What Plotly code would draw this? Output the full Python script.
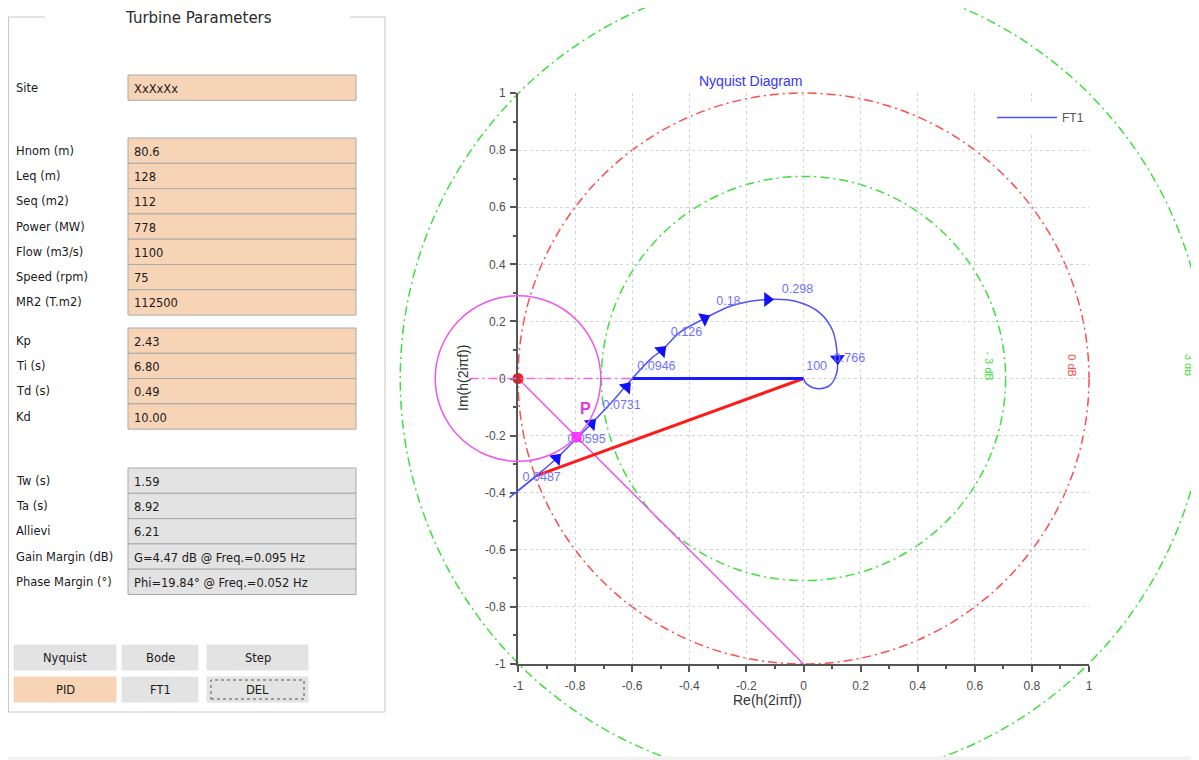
import plotly.graph_objects as go

# ---------------- data ----------------
# Nyquist curve FT1 (low frequency -> high frequency)
curve_re = [-1.03, -0.935, -0.865, -0.795, -0.743, -0.66, -0.6, -0.529, -0.497, -0.434, -0.347,
            -0.249, -0.126, -0.025, 0.056, 0.102, 0.119, 0.116, 0.091, 0.046, 0.01, 0.0]
curve_im = [-0.417, -0.34, -0.28, -0.21, -0.158, -0.07, 0.0, 0.074, 0.098, 0.161, 0.21,
            0.256, 0.277, 0.27, 0.231, 0.168, 0.07, 0.018, -0.025, -0.035, -0.018, 0.0]

# direction arrows along the curve
arrow_re = [-1.03, -0.865, -0.743, -0.62, -0.497, -0.347, -0.126, 0.119]
arrow_im = [-0.417, -0.28, -0.158, -0.03, 0.098, 0.21, 0.277, 0.07]
arrow_dir = [230, 45, 45, 42, 46, 63, 90, 177]

# frequency labels (Hz)
freq_text = ["0.0487", "0.0595", "0.0731", "0.0946", "0.126", "0.18", "0.298", "0.766", "100"]
freq_re = [-0.917, -0.76, -0.637, -0.515, -0.41, -0.263, -0.021, 0.161, 0.046]
freq_im = [-0.347, -0.214, -0.095, 0.039, 0.161, 0.27, 0.312, 0.07, 0.039]

# margins
gain_re = [-0.6, 0.0]
gain_im = [0.0, 0.0]
phase_re = [-0.935, 0.0]
phase_im = [-0.34, 0.0]
critical_re = [-1.0]
critical_im = [0.0]
p_re = [-0.795]
p_im = [-0.205]
pline_re = [-1.0, 0.0]
pline_im = [0.0, -1.0]
p_circle_radius = 0.29
p_axis_re = [-1.17, -0.6]

# constant-gain circles (dB)
db_levels = [-3, 0, 3]
db_colors = ["#3ee03e", "#ff4d4d", "#3ee03e"]
db_label_re = [0.651, 0.942, 1.35]
db_label_im = [0.045, 0.045, 0.045]

# axis ticks
tick_vals = [-1, -0.8, -0.6, -0.4, -0.2, 0, 0.2, 0.4, 0.6, 0.8, 1]
tick_text = ["-1", "-0.8", "-0.6", "-0.4", "-0.2", "0", "0.2", "0.4", "0.6", "0.8", "1"]

# left panel
site_label = "Site"
site_value = "XxXxXx"
turb_labels = ["Hnom (m)", "Leq (m)", "Seq (m2)", "Power (MW)", "Flow (m3/s)", "Speed (rpm)", "MR2 (T.m2)"]
turb_values = ["80.6", "128", "112", "778", "1100", "75", "112500"]
pid_labels = ["Kp", "Ti (s)", "Td (s)", "Kd"]
pid_values = ["2.43", "6.80", "0.49", "10.00"]
res_labels = ["Tw (s)", "Ta (s)", "Allievi", "Gain Margin (dB)", "Phase Margin (°)"]
res_values = ["1.59", "8.92", "6.21", "G=4.47 dB @ Freq.=0.095 Hz", "Phi=19.84° @ Freq.=0.052 Hz"]
buttons_row1 = ["Nyquist", "Bode", "Step"]
buttons_row2 = ["PID", "FT1", "DEL"]

# ---------------- geometry helpers ----------------
# the page body has an 8px margin; positions below are in window pixels
OFF = 8
W, H = 1199 - OFF, 760 - OFF
PX0, PX1, PY0, PY1 = 518, 1089, 93, 664
XR = [-1, 1]
YR = [-1, 1]


def px(x):
    return (x - OFF) / W


def py(y):
    return 1 - (y - OFF) / H


def dx(v):
    return px(PX0 + (v - XR[0]) / (XR[1] - XR[0]) * (PX1 - PX0))


def dy(v):
    return py(PY1 - (v - YR[0]) / (YR[1] - YR[0]) * (PY1 - PY0))


PEACH = "#f8d4b6"
GRAYBOX = "#e3e3e3"
BORDER = "#a9a9a9"
CHART_FONT = "Liberation Sans"
UI_FONT = "DejaVu Sans"
CURVE_COLOR = "#5050ff"

fig = go.Figure()

# ---------------- traces ----------------
fig.add_trace(go.Scatter(x=pline_re, y=pline_im, mode="lines",
                         line=dict(color="#ee55ee", width=1.5), showlegend=False, hoverinfo="skip"))
fig.add_trace(go.Scatter(x=phase_re, y=phase_im, mode="lines",
                         line=dict(color="#ff1a1a", width=3), showlegend=False, hoverinfo="skip"))
fig.add_trace(go.Scatter(x=gain_re, y=gain_im, mode="lines",
                         line=dict(color="#1a1aff", width=3), showlegend=False, hoverinfo="skip"))
fig.add_trace(go.Scatter(x=curve_re, y=curve_im, mode="lines", name="FT1",
                         line=dict(color=CURVE_COLOR, width=1.5, shape="spline", smoothing=1.0),
                         showlegend=True))
fig.add_trace(go.Scatter(x=arrow_re, y=arrow_im, mode="markers", cliponaxis=False,
                         marker=dict(symbol="triangle-up", size=13, angle=arrow_dir, color="#1010ff",
                                     line=dict(width=0)),
                         showlegend=False, hoverinfo="skip"))
fig.add_trace(go.Scatter(x=freq_re, y=freq_im, mode="text", text=freq_text, cliponaxis=False,
                         textfont=dict(family=CHART_FONT, size=12.5, color="#7272ff"),
                         showlegend=False, hoverinfo="skip"))
fig.add_trace(go.Scatter(x=p_re, y=p_im, mode="markers", cliponaxis=False,
                         marker=dict(symbol="square", size=10, color="#ff33ff", line=dict(width=0)),
                         showlegend=False, hoverinfo="skip"))
fig.add_trace(go.Scatter(x=critical_re, y=critical_im, mode="markers", cliponaxis=False,
                         marker=dict(symbol="circle", size=11, color="#ff1a1a", line=dict(width=0)),
                         showlegend=False, hoverinfo="skip"))

shapes = []
annotations = []

# first curve segment lies left of the y axis: draw it unclipped
shapes.append(dict(type="line", xref="paper", yref="paper",
                   x0=dx(curve_re[0]), y0=dy(curve_im[0]), x1=dx(curve_re[1]), y1=dy(curve_im[1]),
                   line=dict(color=CURVE_COLOR, width=1.5)))

# constant-gain circles (paper-referenced so they are not clipped)
for lvl, col, lx, ly in zip(db_levels, db_colors, db_label_re, db_label_im):
    r = 10 ** (lvl / 20)
    shapes.append(dict(type="circle", xref="paper", yref="paper",
                       x0=dx(-r), x1=dx(r), y0=dy(-r), y1=dy(r),
                       line=dict(color=col, width=1.5, dash="9px,4px,2px,4px"), layer="below"))
    annotations.append(dict(xref="paper", yref="paper", x=dx(lx), y=dy(ly),
                            text=f"{lvl} dB" if lvl != -3 else "- 3 dB",
                            showarrow=False, textangle=90, xanchor="center", yanchor="middle",
                            font=dict(family=CHART_FONT, size=11, color=col)))

# magenta circle around the critical point and dash-dot axis line
cx, cy = critical_re[0], critical_im[0]
shapes.append(dict(type="circle", xref="paper", yref="paper",
                   x0=dx(cx - p_circle_radius), x1=dx(cx + p_circle_radius),
                   y0=dy(cy - p_circle_radius), y1=dy(cy + p_circle_radius),
                   line=dict(color="#ee55ee", width=1.5)))
shapes.append(dict(type="line", xref="paper", yref="paper",
                   x0=dx(p_axis_re[0]), x1=dx(p_axis_re[1]), y0=dy(cy), y1=dy(cy),
                   line=dict(color="#ee66ee", width=1.5, dash="9px,4px,2px,4px")))

annotations.append(dict(xref="x", yref="y", x=-0.763, y=-0.105, text="<b>P</b>", showarrow=False,
                        font=dict(family=CHART_FONT, size=16, color="#e633e6")))

# axis titles & chart title
annotations.append(dict(xref="paper", yref="paper", x=px(804), y=py(710), text="Re(h(2iπf))",
                        showarrow=False, font=dict(family=CHART_FONT, size=14, color="#333333")))
annotations.append(dict(xref="paper", yref="paper", x=px(463), y=py(378), text="Im(h(2iπf))",
                        showarrow=False, textangle=-90, font=dict(family=CHART_FONT, size=14, color="#333333")))
annotations.append(dict(xref="paper", yref="paper", x=px(804), y=py(71), text="Nyquist Diagram",
                        showarrow=False, font=dict(family=CHART_FONT, size=14, color="#3535ff")))


# ---------------- left panel ----------------
def rect(x0, y0, x1, y1, fill, line_color=BORDER, width=1, dash=None):
    ln = dict(color=line_color, width=width)
    if dash:
        ln["dash"] = dash
    shapes.append(dict(type="rect", xref="paper", yref="paper",
                       x0=px(x0), x1=px(x1), y0=py(y1), y1=py(y0),
                       fillcolor=fill, line=ln))


def hline(x0, x1, y, color="#c8c8c8"):
    shapes.append(dict(type="line", xref="paper", yref="paper", x0=px(x0), x1=px(x1),
                       y0=py(y), y1=py(y), line=dict(color=color, width=1)))


def vline(x, y0, y1, color="#c8c8c8"):
    shapes.append(dict(type="line", xref="paper", yref="paper", x0=px(x), x1=px(x),
                       y0=py(y0), y1=py(y1), line=dict(color=color, width=1)))


def text(x, y, s, size=11.5, anchor="left", color="#1a1a1a"):
    annotations.append(dict(xref="paper", yref="paper", x=px(x), y=py(y), text=s, showarrow=False,
                            xanchor=anchor, yanchor="middle",
                            font=dict(family=UI_FONT, size=size, color=color)))


# group box
vline(8.5, 17, 712)
vline(385, 17, 712)
hline(8, 385, 712)
hline(8, 45, 17)
hline(350, 385, 17)
text(198, 18, "Turbine Parameters", size=15, anchor="center", color="#2a2a2a")

BX0, BX1 = 128, 356
ROW = 25.3


def field_group(labels, values, top, fill):
    for i, (lab, val) in enumerate(zip(labels, values)):
        y0 = top + i * ROW
        y1 = y0 + ROW
        rect(BX0, y0, BX1, y1, fill)
        text(14, (y0 + y1) / 2, lab)
        text(132, (y0 + y1) / 2 + 1, val, size=11.5)


field_group([site_label], [site_value], 75, PEACH)
field_group(turb_labels, turb_values, 138, PEACH)
field_group(pid_labels, pid_values, 328, PEACH)
field_group(res_labels, res_values, 468, GRAYBOX)

btn_x = [(14, 116), (122, 198), (207, 308)]
for (x0, x1), lab in zip(btn_x, buttons_row1):
    rect(x0, 645, x1, 670, GRAYBOX, line_color=GRAYBOX)
    text((x0 + x1) / 2, 658, lab, size=11.5, anchor="center")
for (x0, x1), lab in zip(btn_x, buttons_row2):
    fill = PEACH if lab == "PID" else GRAYBOX
    rect(x0, 677, x1, 702, fill, line_color=fill)
    if lab == "DEL":
        rect(x0 + 4, 680, x1 - 4, 699, "rgba(0,0,0,0)", line_color="#555555", dash="dot")
    text((x0 + x1) / 2, 690, lab, size=11.5, anchor="center")

# faint bottom band
rect(OFF, 757, OFF + W, 760, "#f2f2f2", line_color="#f2f2f2")

axis_common = dict(
    showline=True, linecolor="#555555", linewidth=2, mirror=False,
    ticks="outside", ticklen=6, tickwidth=1.5, tickcolor="#555555",
    tickmode="array", tickvals=tick_vals, ticktext=tick_text,
    minor=dict(tickmode="linear", tick0=0, dtick=0.1, ticks="outside", ticklen=3,
               tickcolor="#555555", showgrid=False),
    showgrid=True, gridcolor="#d4d4d4", griddash="dot", gridwidth=1,
    zeroline=False, fixedrange=True, automargin=False,
    tickfont=dict(family=CHART_FONT, size=12, color="#4d4d4d"),
)

fig.update_layout(
    width=W, height=H,
    margin=dict(l=0, r=0, t=0, b=0, pad=0, autoexpand=False),
    paper_bgcolor="white", plot_bgcolor="white",
    xaxis=dict(domain=[px(PX0), px(PX1)], range=XR, ticklabelstandoff=4, **axis_common),
    yaxis=dict(domain=[py(PY1), py(PY0)], range=YR, ticklabelstandoff=2, **axis_common),
    shapes=shapes,
    annotations=annotations,
    legend=dict(x=px(992), y=py(103), xanchor="left", yanchor="top", bgcolor="white",
                font=dict(family=CHART_FONT, size=12, color="#555555"), itemwidth=60,
                borderwidth=0),
    hovermode=False,
)

fig.write_html("out.html")
